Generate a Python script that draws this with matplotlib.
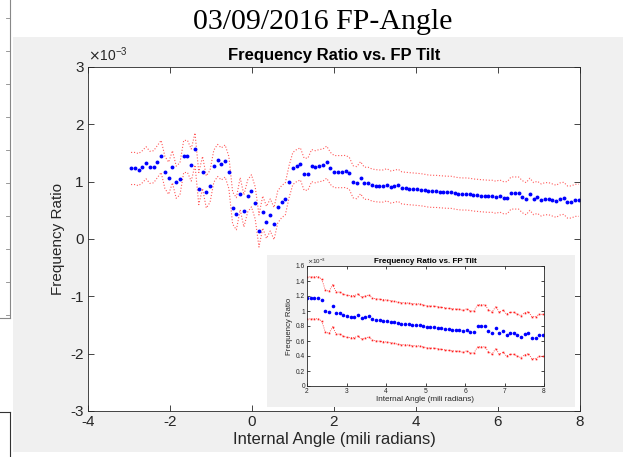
# plot.py - Frequency Ratio vs. FP Tilt (slide screenshot with inset)
import numpy as np
import matplotlib
matplotlib.use("Agg")
import matplotlib.pyplot as plt
from matplotlib.lines import Line2D

# Duomenys (reiksmes x 1e-3)
angle = np.linspace(-2.95, 7.97, 120)
ratio = [
    1.23, 1.23, 1.21, 1.26, 1.33, 1.25, 1.26, 1.35, 1.44, 1.16,
    1.06, 1.26, 0.99, 1.05, 1.44, 1.44, 1.29, 1.57, 0.88, 1.16,
    0.82, 0.92, 1.27, 1.37, 1.31, 1.36, 1.16, 0.54, 0.44, 0.79,
    0.49, 0.75, 0.84, 0.63, 0.14, 0.47, 0.29, 0.42, 0.27, 0.56,
    0.65, 0.70, 1.00, 1.23, 1.28, 1.31, 1.13, 1.13, 1.28, 1.26,
    1.28, 1.29, 1.34, 1.23, 1.175, 1.175, 1.175, 1.178, 1.146, 0.999,
    0.982, 1.069, 0.972, 0.972, 0.942, 0.930, 0.924, 0.924, 0.947, 0.907,
    0.919, 0.936, 0.890, 0.884, 0.877, 0.872, 0.866, 0.860, 0.849, 0.837,
    0.831, 0.831, 0.825, 0.820, 0.815, 0.815, 0.802, 0.790, 0.785, 0.785,
    0.780, 0.767, 0.762, 0.755, 0.750, 0.745, 0.745, 0.727, 0.750, 0.720,
    0.720, 0.802, 0.802, 0.802, 0.738, 0.703, 0.780, 0.703, 0.727, 0.680,
    0.703, 0.703, 0.680, 0.657, 0.698, 0.710, 0.645, 0.645, 0.675, 0.675,
]
band = 0.28  # pasikliovimo juostos plotis

main_xticks = [-4, -2, 0, 2, 4, 6, 8]
main_yticks = [-3, -2, -1, 0, 1, 2, 3]
inset_xticks = [2, 3, 4, 5, 6, 7, 8]
inset_yticks = [0, 0.2, 0.4, 0.6, 0.8, 1, 1.2, 1.4, 1.6]

plt.rcParams['font.family'] = ['Liberation Sans', 'DejaVu Sans']

W, H = 623, 457
fig = plt.figure(figsize=(W / 100, H / 100), dpi=100, facecolor='white')

def fx(px):
    return px / W

def fy(py):
    return 1 - py / H

# pilkas figuros fonas
bg = fig.add_axes([fx(13), fy(452), fx(610), (452 - 37) / H])
bg.set_facecolor('#f0f0f0')
bg.set_xticks([])
bg.set_yticks([])
for s in bg.spines.values():
    s.set_visible(False)

# skaidres artefaktai kaireje
fig.add_artist(Line2D([fx(10), fx(10)], [fy(0), fy(318)], color='#888888', lw=0.8))
fig.add_artist(Line2D([fx(0), fx(10)], [fy(318), fy(318)], color='#888888', lw=0.8))
for ty in range(18, 318, 33):
    fig.add_artist(Line2D([fx(6), fx(10)], [fy(ty), fy(ty)], color='#888888', lw=0.6))
fig.add_artist(Line2D([fx(10), fx(10)], [fy(412), fy(457)], color='#333333', lw=0.8))
fig.add_artist(Line2D([fx(0), fx(10)], [fy(412), fy(412)], color='#333333', lw=0.8))

fig.text(0.518, fy(22), '03/09/2016 FP-Angle', family='Liberation Serif',
         fontsize=21.5, ha='center', va='center')

def style_axes(ax, size, ticklen):
    ax.tick_params(direction='in', top=True, right=True, labelsize=size,
                   length=ticklen, width=0.6, colors='#262626', pad=3)
    for s in ax.spines.values():
        s.set_color('#262626')
        s.set_linewidth(0.6)

# pagrindinis grafikas
ax = fig.add_axes([fx(88), fy(411), fx(492), (411 - 67) / H])
ax.plot(angle, np.array(ratio) + band, ':', color='#ff5a5a', lw=0.8)
ax.plot(angle, np.array(ratio) - band, ':', color='#ff5a5a', lw=0.8)
ax.plot(angle, ratio, 'o', color='#0000ff', ms=2.8, mew=0)
ax.set_xlim(-4, 8)
ax.set_ylim(-3, 3)
ax.set_xticks(main_xticks)
ax.set_yticks(main_yticks)
ax.set_xticklabels([str(t) for t in main_xticks])
ax.set_yticklabels([str(t) for t in main_yticks])
style_axes(ax, 11, 4)
ax.set_title('Frequency Ratio vs. FP Tilt', fontsize=12, fontweight='bold', pad=5)
ax.set_xlabel('Internal Angle (mili radians)', fontsize=12, color='#262626', labelpad=2)
ax.set_ylabel('Frequency Ratio', fontsize=11, color='#262626', labelpad=4)
ax.text(0.0, 1.01, r'$\times\mathregular{10^{-3}}$', transform=ax.transAxes,
        fontsize=10, color='#262626', ha='left', va='bottom')

# iklijuotas mazesnis grafikas
ibg = fig.add_axes([fx(267), fy(407), fx(308), (407 - 255) / H])
ibg.set_facecolor('#f0f0f0')
ibg.set_xticks([])
ibg.set_yticks([])
for s in ibg.spines.values():
    s.set_visible(False)

sel = angle >= 1.99
ix = angle[sel]
iy = np.array(ratio)[sel]
ins = fig.add_axes([fx(307), fy(386), fx(237), (386 - 266) / H])
ins.plot(ix, iy + band, ':', color='#ff2020', lw=0.6, marker='s', ms=1.2, mew=0)
ins.plot(ix, iy - band, ':', color='#ff2020', lw=0.6, marker='s', ms=1.2, mew=0)
ins.plot(ix, iy, 'o', color='#0000ff', ms=2.6, mew=0)
ins.set_xlim(2, 8)
ins.set_ylim(0, 1.6)
ins.set_xticks(inset_xticks)
ins.set_yticks(inset_yticks)
ins.set_xticklabels([str(t) for t in inset_xticks])
ins.set_yticklabels(['0', '0.2', '0.4', '0.6', '0.8', '1', '1.2', '1.4', '1.6'])
style_axes(ins, 4.8, 2)
ins.tick_params(pad=1.5)
ins.set_title('Frequency Ratio vs. FP Tilt', fontsize=5.8, fontweight='bold', pad=2)
ins.set_xlabel('Internal Angle (mili radians)', fontsize=5.9, color='#262626', labelpad=1)
ins.set_ylabel('Frequency Ratio', fontsize=5.6, color='#262626', labelpad=2)
ins.text(0.0, 1.0, r'$\times\mathregular{10^{-3}}$', transform=ins.transAxes,
         fontsize=4.5, color='#262626', ha='left', va='bottom')

fig.savefig('out.png', dpi=100)
